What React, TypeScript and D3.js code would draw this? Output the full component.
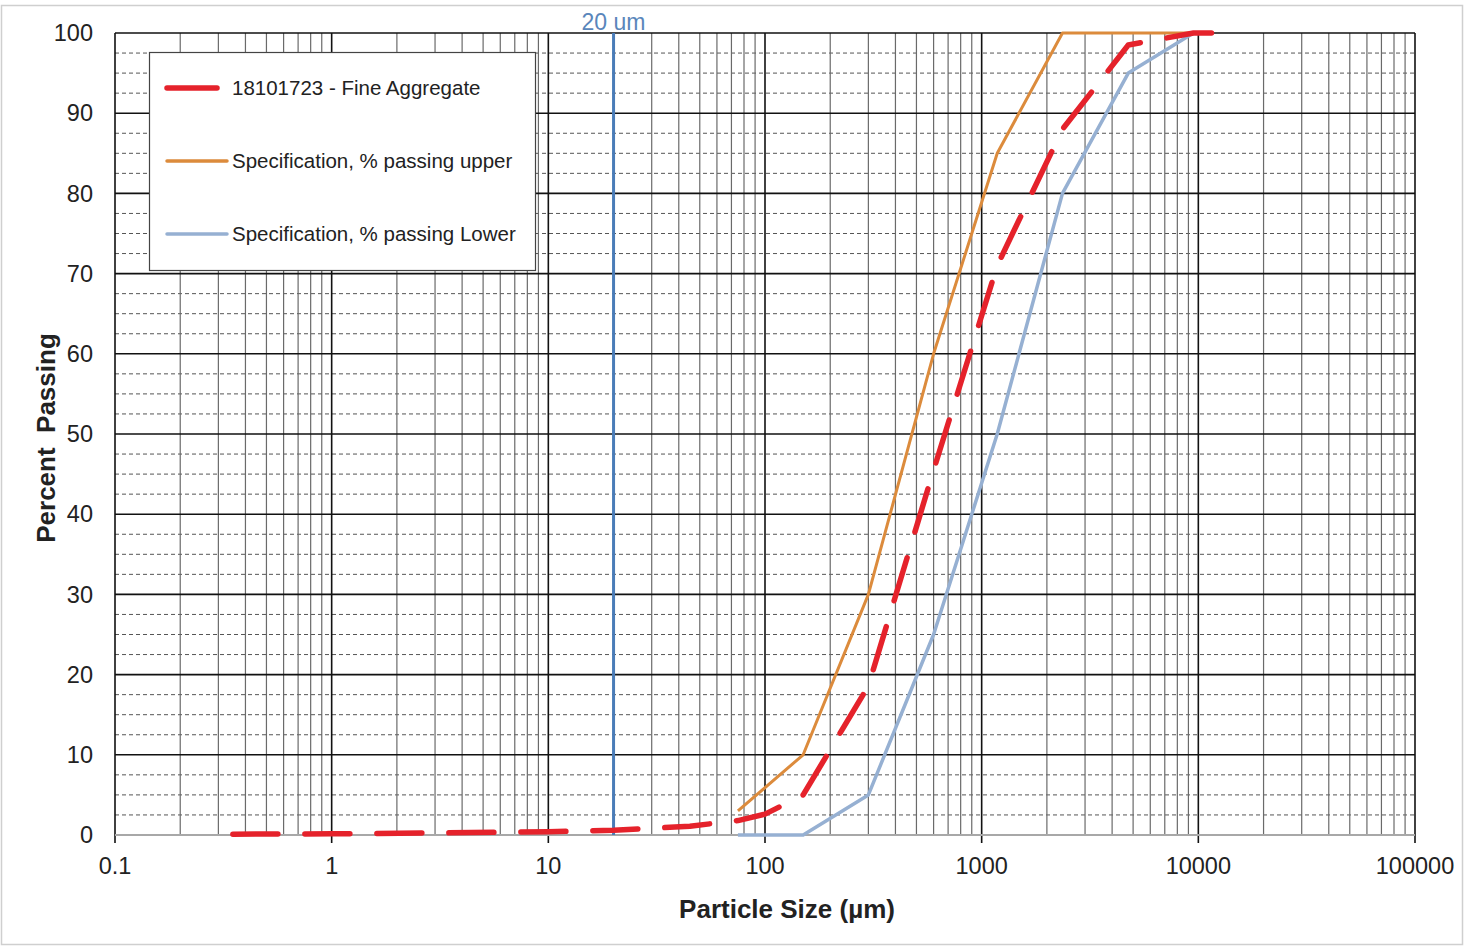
import React from "react";
import * as d3 from "d3";

const fineSize = [0.35, 1, 3, 10, 20, 45, 75, 100, 150, 300, 600, 1180, 2360, 4750, 9500, 14000];
const finePass = [0.1, 0.15, 0.25, 0.4, 0.6, 1.1, 1.8, 2.6, 5, 18.6, 45.5, 71, 88, 98.5, 100, 100];

const upperSize = [75, 150, 300, 600, 1180, 2360, 4750, 9500];
const upperPass = [3, 10, 30, 60, 85, 100, 100, 100];

const lowerSize = [75, 150, 300, 600, 1180, 2360, 4750, 9500];
const lowerPass = [0, 0, 5, 25, 50, 80, 95, 100];

const xTickValues = [0.1, 1, 10, 100, 1000, 10000, 100000];
const xTickLabels = ["0.1", "1", "10", "100", "1000", "10000", "100000"];
const yTickValues = [0, 10, 20, 30, 40, 50, 60, 70, 80, 90, 100];

const refSize = 20;
const refLabel = "20 um";

const legendLabels = [
  "18101723 - Fine Aggregate",
  "Specification, % passing upper",
  "Specification, % passing Lower",
];

const FONT = "'Liberation Sans', Arial, sans-serif";
const RED = "#e5222b";
const ORANGE = "#dc8b3c";
const BLUE = "#96b0d2";
const REF = "#4a7cb8";

export default function App() {
  const W = 1469, H = 951;
  const x = d3.scaleLog().domain([0.1, 100000]).range([115, 1415]);
  const y = d3.scaleLinear().domain([0, 100]).range([835, 33]);

  const line = d3
    .line<[number, number]>()
    .x((d) => x(d[0]))
    .y((d) => y(d[1]))
    .curve(d3.curveLinear);

  const zip = (a: number[], b: number[]) => a.map((v, i) => [v, b[i]] as [number, number]);

  const minorX: number[] = [];
  for (let e = -1; e < 5; e++) {
    for (let k = 2; k <= 9; k++) minorX.push(k * Math.pow(10, e));
  }
  const minorY: number[] = [];
  for (let v = 0; v < 100; v += 10) {
    minorY.push(v + 2.5, v + 5, v + 7.5);
  }

  const legendItems = [
    { label: legendLabels[0], color: RED, w: 5.5, x1: 167, x2: 217 },
    { label: legendLabels[1], color: ORANGE, w: 3.5, x1: 167, x2: 227 },
    { label: legendLabels[2], color: BLUE, w: 3.5, x1: 167, x2: 227 },
  ];

  return (
    <svg
      width={W}
      height={H}
      style={{ position: "absolute", left: 0, top: 0, background: "#fff" }}
      fontFamily={FONT}
    >
      <rect x={1.5} y={5.5} width={1461} height={939} fill="#fff" stroke="#cfcfcf" strokeWidth={1.5} />

      {/* minor horizontal dashed */}
      {minorY.map((v) => (
        <line key={"my" + v} x1={115} x2={1415} y1={y(v)} y2={y(v)} stroke="#555" strokeWidth={1} strokeDasharray="4,3" />
      ))}
      {/* minor vertical */}
      {minorX.map((v) => (
        <line key={"mx" + v} x1={x(v)} x2={x(v)} y1={33} y2={835} stroke="#6a6a6a" strokeWidth={1.2} />
      ))}
      {/* major horizontal */}
      {yTickValues.map((v) =>
        v === 0 ? null : (
          <line key={"Y" + v} x1={115} x2={1415} y1={y(v)} y2={y(v)} stroke="#111" strokeWidth={1.6} />
        )
      )}
      {/* major vertical */}
      {xTickValues.map((v) => (
        <line key={"X" + v} x1={x(v)} x2={x(v)} y1={33} y2={843} stroke="#111" strokeWidth={1.6} />
      ))}
      {/* zero axis */}
      <line x1={115} x2={1415} y1={y(0)} y2={y(0)} stroke="#a8a8a8" strokeWidth={2} />

      {/* reference line */}
      <line x1={x(refSize)} x2={x(refSize)} y1={y(100)} y2={y(0)} stroke={REF} strokeWidth={3} />
      <text x={x(refSize)} y={30} textAnchor="middle" fontSize={23} fill="#5a86bb">
        {refLabel}
      </text>

      {/* series */}
      <path d={line(zip(lowerSize, lowerPass)) || ""} fill="none" stroke={BLUE} strokeWidth={3.5} strokeLinejoin="round" />
      <path d={line(zip(upperSize, upperPass)) || ""} fill="none" stroke={ORANGE} strokeWidth={3} strokeLinejoin="round" />
      <path
        d={line(zip(fineSize, finePass)) || ""}
        fill="none"
        stroke={RED}
        strokeWidth={5.5}
        strokeDasharray="45,27"
        strokeLinecap="round"
        strokeLinejoin="round"
      />

      {/* legend */}
      <rect x={149.5} y={52.5} width={386} height={218} fill="#fff" stroke="#444" strokeWidth={1.2} />
      {legendItems.map((it, i) => {
        const ly = 88 + i * 73;
        return (
          <g key={"lg" + i}>
            <line x1={it.x1} x2={it.x2} y1={ly} y2={ly} stroke={it.color} strokeWidth={it.w} strokeLinecap="round" />
            <text x={232} y={ly} dy="0.35em" fontSize={20.5} fill="#222">
              {it.label}
            </text>
          </g>
        );
      })}

      {/* y tick labels */}
      {yTickValues.map((v) => (
        <text key={"yl" + v} x={93} y={y(v)} dy="0.35em" textAnchor="end" fontSize={23.5} fill="#222">
          {v}
        </text>
      ))}
      {/* x tick labels */}
      {xTickValues.map((v, i) => (
        <text key={"xl" + v} x={x(v)} y={866} dy="0.35em" textAnchor="middle" fontSize={23.5} fill="#222">
          {xTickLabels[i]}
        </text>
      ))}

      {/* axis titles */}
      <text
        transform={`translate(46,${438}) rotate(-90)`}
        textAnchor="middle"
        dy="0.35em"
        fontSize={26}
        fontWeight="bold"
        fill="#222"
        style={{ whiteSpace: "pre" }}
      >
        {"Percent  Passing"}
      </text>
      <text x={787} y={909} dy="0.35em" textAnchor="middle" fontSize={26} fontWeight="bold" fill="#222">
        Particle Size (µm)
      </text>
    </svg>
  );
}
